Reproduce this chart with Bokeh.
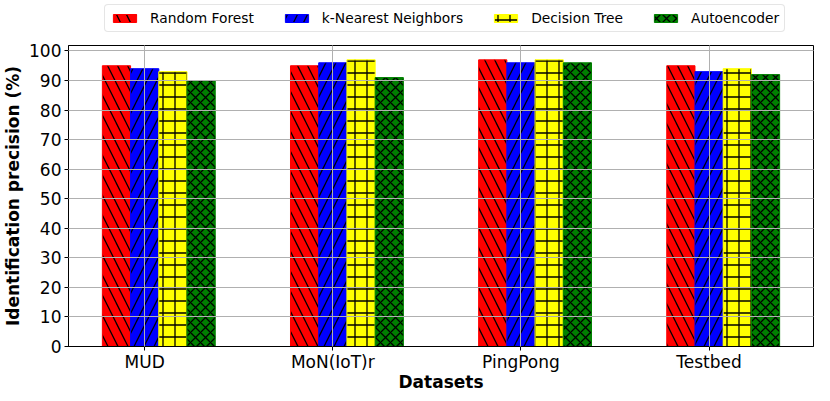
from bokeh.plotting import figure
from bokeh.layouts import column
from bokeh.models import ColumnDataSource, Range1d, Legend, LegendItem, FixedTicker
from bokeh.embed import file_html
from bokeh.resources import INLINE

datasets = ["MUD", "MoN(IoT)r", "PingPong", "Testbed"]
series_names = ["Random Forest", "k-Nearest Neighbors", "Decision Tree", "Autoencoder"]
random_forest = [95, 95, 97, 95]
knn = [94, 96, 96, 93]
decision_tree = [93, 97, 97, 94]
autoencoder = [90, 91, 96, 92]
y_ticks = [0, 10, 20, 30, 40, 50, 60, 70, 80, 90, 100]

series_values = [random_forest, knn, decision_tree, autoencoder]
colors = ["#ff0000", "#0000ff", "#ffff00", "#008000"]
hatches = ["left_diagonal_line", "right_diagonal_line", "cross", "diagonal_cross"]
hatch_scales = [20, 20, 12, 10]
offsets = [-0.15, 0.0, 0.15, 0.30]
bar_w = 0.15

W = 814
LEG_H = 42
MAIN_H = 352

# main chart
p = figure(width=W, height=MAIN_H, output_backend="svg", toolbar_location=None,
           x_range=Range1d(-0.405, 3.555), y_range=Range1d(0, 101.85),
           min_border_left=62, min_border_right=1, min_border_top=3, min_border_bottom=46)

# legend strip above the chart (its bars lie outside its visible range; only the legend shows)
lf = figure(width=W, height=LEG_H, output_backend="svg", toolbar_location=None,
            x_range=Range1d(-0.405, 3.555), y_range=Range1d(1000, 1001),
            x_axis_location=None, y_axis_location=None,
            min_border_left=62, min_border_right=1, min_border_top=0, min_border_bottom=0)
lf.xgrid.visible = False
lf.ygrid.visible = False
lf.outline_line_color = None
lf.background_fill_color = "white"
lf.border_fill_color = "white"

def style(c, h, hs):
    return dict(fill_color=c, line_color=c, line_width=1,
                hatch_pattern=h, hatch_color="black", hatch_weight=1.3, hatch_scale=hs)

items = []
for name, vals, c, h, hs, off in zip(series_names, series_values, colors, hatches, hatch_scales, offsets):
    src = ColumnDataSource(dict(x=[i + off for i in range(len(datasets))], top=vals))
    p.vbar(x="x", top="top", width=bar_w, bottom=0, source=src, **style(c, h, hs))
    lr = lf.vbar(x="x", top="top", width=bar_w, bottom=0, source=src, **style(c, h, hs))
    items.append(LegendItem(label=name, renderers=[lr], index=0))

p.xaxis.ticker = FixedTicker(ticks=list(range(len(datasets))))
p.xaxis.major_label_overrides = {i: d for i, d in enumerate(datasets)}
p.yaxis.ticker = FixedTicker(ticks=y_ticks)

for ax in (p.xaxis, p.yaxis):
    ax.axis_line_color = "black"
    ax.axis_line_width = 1
    ax.major_tick_line_color = "black"
    ax.major_tick_out = 4
    ax.major_tick_in = 0
    ax.minor_tick_line_color = None
    ax.major_label_text_font = "DejaVu Sans"
    ax.major_label_text_font_size = "17px"
    ax.major_label_text_color = "black"
    ax.axis_label_text_font = "DejaVu Sans"
    ax.axis_label_text_font_size = "17px"
    ax.axis_label_text_font_style = "bold"
    ax.axis_label_text_color = "black"

p.yaxis.major_label_standoff = 3
p.yaxis.axis_label_standoff = 3
p.xaxis.major_label_standoff = 1
p.xaxis.axis_label_standoff = -3

p.xaxis.axis_label = "Datasets"
p.yaxis.axis_label = "Identification precision (%)"

p.xgrid.grid_line_color = "#b0b0b0"
p.ygrid.grid_line_color = "#b0b0b0"
p.xgrid.grid_line_width = 1
p.ygrid.grid_line_width = 1
p.xgrid.level = "guide"
p.ygrid.level = "guide"

p.outline_line_color = "black"
p.outline_line_width = 1
p.background_fill_color = "white"
p.border_fill_color = "white"

legend = Legend(items=items, orientation="horizontal", location=(36, 10), margin=0,
                padding=5, spacing=28, label_standoff=11,
                glyph_width=29, glyph_height=10, label_height=15,
                label_text_font="DejaVu Sans", label_text_font_size="13.8px",
                label_text_color="black",
                border_line_color="#cccccc", border_line_width=1,
                background_fill_color="white", background_fill_alpha=0.8)
if "border_radius" in Legend.properties():
    legend.border_radius = 4
lf.add_layout(legend, "center")

layout = column(lf, p, spacing=0)
open("out.html", "w").write(file_html(layout, INLINE))
